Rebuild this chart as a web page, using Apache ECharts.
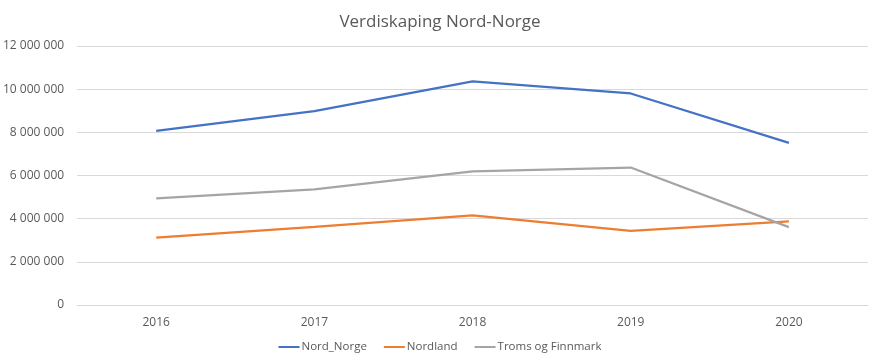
<!DOCTYPE html>
<html>
<head>
<meta charset="utf-8">
<script src="https://cdn.jsdelivr.net/npm/echarts@6/dist/echarts.min.js"></script>
<style>html,body{margin:0;padding:0;background:#fff}#c{width:880px;height:364px}</style>
</head>
<body>
<div id="c"></div>
<script>
const title = 'Verdiskaping Nord-Norge';
const years = ['2016', '2017', '2018', '2019', '2020'];
const nordNorge = [8070000, 8980000, 10360000, 9800000, 7510000];
const nordland = [3120000, 3620000, 4150000, 3430000, 3870000];
const tromsFinnmark = [4940000, 5360000, 6190000, 6370000, 3610000];
const seriesNames = ['Nord_Norge', 'Nordland', 'Troms og Finnmark'];
const colors = ['#4472C4', '#ED7D31', '#A5A5A5'];
const font = 'Open Sans';

function fmt(v) { return String(v).replace(/\B(?=(\d{3})+(?!\d))/g, ' '); }

const chart = echarts.init(document.getElementById('c'));
const data = [nordNorge, nordland, tromsFinnmark];
chart.setOption({
  animation: false,
  title: { text: title, left: 'center', top: 9, textStyle: { fontFamily: font, fontSize: 17, fontWeight: 'normal', color: '#595959' } },
  legend: {
    bottom: 6, left: 'center', itemWidth: 21, itemHeight: 2, itemGap: 17,
    icon: 'rect',
    textStyle: { fontFamily: font, fontSize: 11.5, color: '#595959', padding: [0, 0, 0, -3] },
    data: seriesNames
  },
  grid: { left: 76, right: 12, top: 46, bottom: 59 },
  xAxis: {
    type: 'category', data: years, boundaryGap: true,
    axisLine: { show: true, lineStyle: { color: '#D9D9D9' } },
    axisTick: { show: false },
    axisLabel: { fontFamily: font, fontSize: 12, color: '#595959', margin: 12 }
  },
  yAxis: {
    type: 'value', min: 0, max: 12000000, interval: 2000000,
    axisLine: { show: false }, axisTick: { show: false },
    splitLine: { lineStyle: { color: '#D9D9D9' } },
    axisLabel: { fontFamily: font, fontSize: 12, color: '#595959', margin: 13, formatter: fmt }
  },
  series: seriesNames.map((n, i) => ({
    name: n, type: 'line', data: data[i], showSymbol: false, symbol: 'none',
    lineStyle: { width: 2.25, color: colors[i] }, itemStyle: { color: colors[i] }
  }))
});
</script>
</body>
</html>
